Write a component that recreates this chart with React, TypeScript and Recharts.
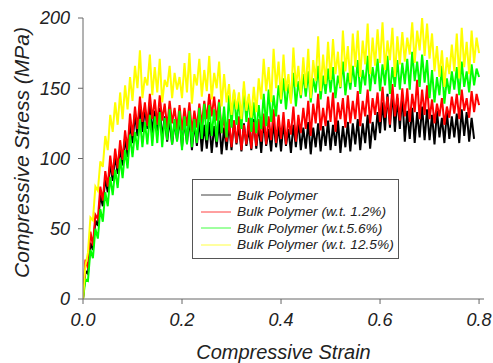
import { LineChart, Line, XAxis, YAxis, Label } from 'recharts'

const FONT = "'Liberation Sans', Arial, sans-serif"

// strain axis: one reading every 0.005
const strainStep = 0.005
const strainTicks = [0, 0.2, 0.4, 0.6, 0.8]
const stressTicks = [0, 50, 100, 150, 200]

const seriesKeys = ['bulk', 'wt12', 'wt56', 'wt125']
const seriesNames = [
  'Bulk Polymer',
  'Bulk Polymer (w.t. 1.2%)',
  'Bulk Polymer (w.t.5.6%)',
  'Bulk Polymer (w.t. 12.5%)',
]
const seriesColors = ['#000000', '#ff0000', '#00ff00', '#ffff00']

// stress (MPa) (upper / lower edge of each band)
const bulk = [
  0, 20, 18, 40, 35, 56, 52, 74, 66, 86,
  76, 97, 84, 102, 89, 108, 95, 115, 101, 126,
  111, 132, 116, 138, 119, 136, 121, 140, 118, 134,
  117, 136, 114, 130, 112, 128, 110, 126, 113, 129,
  108, 127, 111, 129, 106, 125, 109, 128, 105, 124,
  107, 126, 104, 123, 108, 127, 103, 122, 106, 125,
  106, 127, 110, 123, 105, 125, 109, 121, 106, 128,
  107, 124, 104, 127, 109, 121, 105, 126, 108, 123,
  105, 125, 109, 121, 104, 124, 108, 127, 106, 122,
  107, 126, 103, 122, 108, 125, 105, 123, 109, 127,
  106, 124, 109, 127, 104, 123, 108, 126, 105, 125,
  110, 128, 106, 125, 111, 131, 107, 126, 113, 133,
  118, 140, 120, 146, 122, 148, 119, 143, 121, 145,
  112, 134, 114, 136, 111, 133, 115, 137, 113, 135,
  113, 131, 110, 134, 115, 129, 111, 133, 114, 130,
  115, 132, 111, 135, 116, 133, 112, 129, 114,
]

const wt12 = [
  0, 28, 22, 48, 38, 60, 57, 80, 70, 91,
  80, 102, 88, 107, 93, 113, 99, 120, 106, 132,
  116, 137, 121, 144, 126, 140, 123, 146, 128, 142,
  124, 145, 127, 139, 122, 141, 125, 136, 121, 138,
  120, 136, 123, 140, 119, 134, 122, 139, 124, 141,
  128, 146, 130, 144, 127, 142, 118, 130, 112, 128,
  108, 127, 111, 130, 106, 124, 110, 129, 107, 126,
  109, 128, 112, 132, 110, 130, 113, 135, 111, 131,
  114, 133, 110, 128, 117, 137, 112, 131, 118, 136,
  121, 141, 116, 139, 125, 146, 120, 136, 123, 144,
  126, 147, 119, 140, 128, 143, 122, 145, 125, 141,
  128, 148, 123, 141, 130, 149, 125, 143, 131, 147,
  126, 151, 129, 144, 124, 153, 130, 146, 127, 150,
  130, 150, 126, 146, 133, 156, 128, 149, 131, 152,
  128, 142, 125, 139, 130, 143, 124, 137, 129, 144,
  132, 146, 128, 149, 134, 143, 129, 148, 133, 146,
  138,
]

const wt56 = [
  0, 14, 13, 35, 29, 50, 43, 64, 55, 76,
  66, 87, 74, 92, 79, 100, 86, 106, 93, 117,
  101, 119, 106, 128, 108, 126, 110, 131, 109, 130,
  111, 133, 108, 129, 113, 135, 110, 128, 112, 134,
  106, 130, 110, 134, 108, 128, 111, 136, 114, 139,
  113, 138, 116, 135, 112, 140, 118, 137, 115, 145,
  122, 148, 124, 142, 121, 150, 126, 144, 119, 140,
  118, 138, 121, 146, 123, 149, 126, 145, 130, 152,
  139, 157, 135, 153, 141, 161, 137, 155, 143, 160,
  144, 162, 140, 157, 147, 166, 142, 159, 146, 164,
  147, 165, 143, 159, 150, 169, 145, 161, 149, 166,
  151, 170, 146, 163, 152, 173, 148, 165, 153, 171,
  148, 167, 152, 173, 146, 165, 151, 170, 149, 168,
  153, 171, 149, 176, 155, 169, 151, 174, 154, 170,
  143, 163, 140, 158, 145, 166, 139, 157, 146, 162,
  149, 165, 145, 169, 151, 162, 147, 167, 152, 164,
  158,
]

const wt125 = [
  0, 24, 33, 58, 56, 80, 77, 98, 94, 116,
  106, 131, 119, 140, 124, 147, 128, 152, 135, 158,
  141, 166, 150, 177, 143, 158, 152, 174, 145, 165,
  147, 171, 140, 156, 151, 166, 143, 161, 149, 158,
  143, 168, 147, 175, 139, 160, 152, 171, 144, 163,
  148, 173, 142, 161, 150, 169, 137, 160, 140, 153,
  131, 149, 135, 147, 128, 155, 134, 146, 129, 151,
  133, 157, 142, 171, 148, 165, 140, 178, 150, 169,
  142, 174, 148, 160, 139, 179, 151, 166, 145, 172,
  150, 178, 143, 170, 155, 187, 148, 174, 153, 183,
  156, 185, 160, 176, 151, 191, 162, 180, 154, 189,
  165, 191, 158, 184, 167, 196, 160, 186, 166, 192,
  168, 197, 163, 184, 170, 193, 158, 187, 167, 190,
  169, 186, 174, 197, 168, 191, 177, 200, 173, 196,
  171, 189, 162, 180, 158, 177, 151, 172, 160, 181,
  162, 189, 157, 193, 165, 183, 160, 191, 168, 186,
  175,
]

const data = wt125.map((_, i) => ({
  strain: +(i * strainStep).toFixed(3),
  bulk: bulk[i],
  wt12: wt12[i],
  wt56: wt56[i],
  wt125: wt125[i],
}))

const tickStyle = { fill: '#222', fontSize: 18, fontStyle: 'italic', fontFamily: FONT }

function ChartLegend() {
  return (
    <div
      style={{
        position: 'absolute',
        left: 192,
        top: 179,
        width: 207,
        height: 80,
        border: '1px solid #555',
        background: '#fff',
        fontFamily: FONT,
        fontStyle: 'italic',
        fontSize: 13.7,
        color: '#222',
        paddingTop: 7,
        boxSizing: 'border-box',
      }}
    >
      {seriesNames.map((name, i) => (
        <div key={name} style={{ display: 'flex', alignItems: 'center', height: 16.5 }}>
          <svg width={44} height={4} style={{ flex: 'none' }}>
            <line x1={8} y1={2} x2={38} y2={2} stroke={seriesColors[i]} strokeWidth={1} strokeOpacity={0.75} />
          </svg>
          <span style={{ whiteSpace: 'nowrap' }}>{name}</span>
        </div>
      ))}
    </div>
  )
}

export default function App() {
  return (
    <div style={{ position: 'absolute', left: 0, top: 0, width: 493, height: 363, background: '#fff' }}>
      <LineChart width={493} height={363} data={data} margin={{ top: 18, right: 9, bottom: 0, left: 0 }}>
        <XAxis
          dataKey="strain"
          type="number"
          domain={[0, 0.81]}
          ticks={strainTicks}
          tickFormatter={(v: number) => v.toFixed(1)}
          height={64}
          tickSize={5}
          tickMargin={9}
          stroke="#666"
          tick={tickStyle}
          allowDataOverflow
        >
          <Label
            content={({ viewBox }: any) => (
              <text
                x={viewBox.x + viewBox.width / 2}
                y={viewBox.y + 53}
                textAnchor="middle"
                dominantBaseline="central"
                fill="#222"
                fontSize={20}
                fontStyle="italic"
                fontFamily={FONT}
              >
                Compressive Strain
              </text>
            )}
          />
        </XAxis>
        <XAxis xAxisId="top" orientation="top" type="number" domain={[0, 0.81]} height={0} tick={false} tickLine={false} stroke="#666" />
        <YAxis
          type="number"
          domain={[0, 200]}
          ticks={stressTicks}
          width={83}
          tickSize={5}
          tickMargin={8}
          stroke="#666"
          tick={tickStyle}
          allowDataOverflow
        >
          <Label
            content={({ viewBox }: any) => {
              const cx = viewBox.x + 21
              const cy = viewBox.y + viewBox.height / 2 - 6
              return (
                <text
                  x={cx}
                  y={cy}
                  transform={`rotate(-90 ${cx} ${cy})`}
                  textAnchor="middle"
                  dominantBaseline="central"
                  fill="#222"
                  fontSize={21}
                  fontStyle="italic"
                  fontFamily={FONT}
                >
                  Compressive Stress (MPa)
                </text>
              )
            }}
          />
        </YAxis>
        <YAxis yAxisId="right" orientation="right" width={0} domain={[0, 200]} tick={false} tickLine={false} stroke="#666" />
        {seriesKeys.map((key, i) => (
          <Line
            key={key}
            dataKey={key}
            name={seriesNames[i]}
            type="linear"
            stroke={seriesColors[i]}
            strokeWidth={2}
            dot={false}
            activeDot={false}
            isAnimationActive={false}
          />
        ))}
      </LineChart>
      <ChartLegend />
    </div>
  )
}
